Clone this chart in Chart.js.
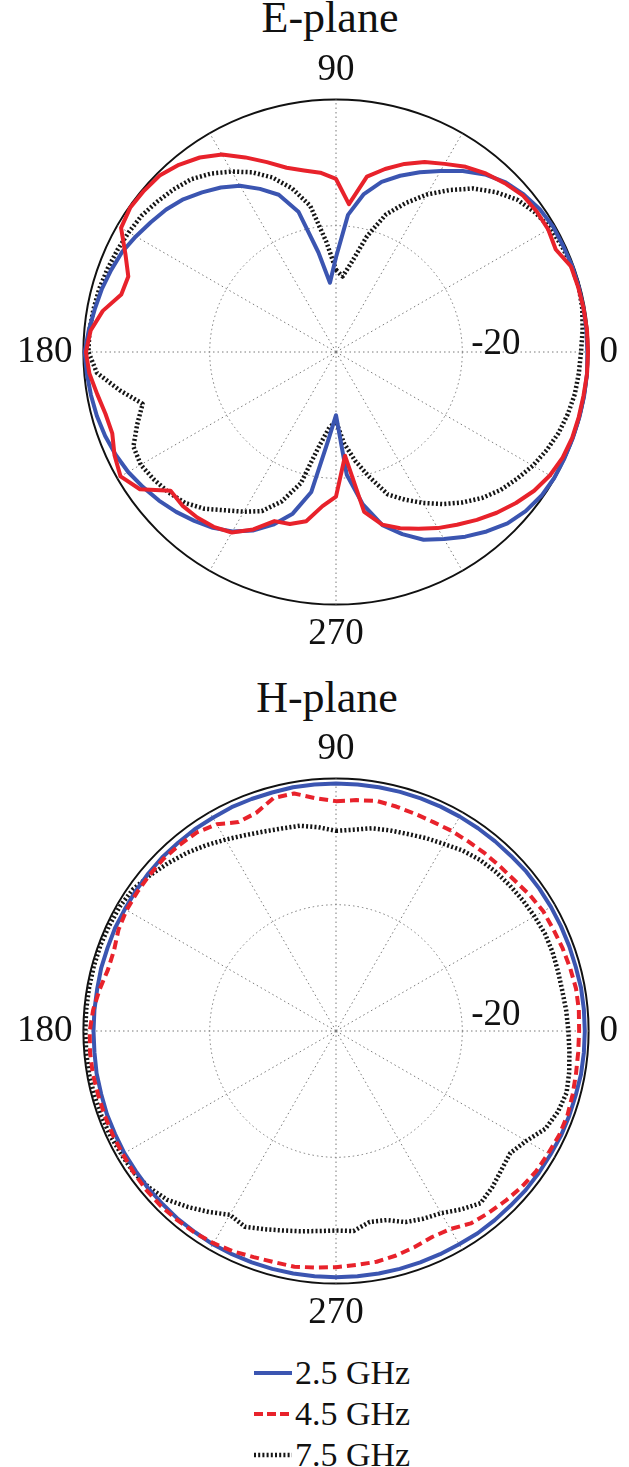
<!DOCTYPE html>
<html>
<head>
<meta charset="utf-8">
<script src="https://cdn.jsdelivr.net/npm/chart.js@4.4.1/dist/chart.umd.min.js"></script>
<style>
  html, body { margin: 0; padding: 0; background: #fff; overflow: hidden; width: 629px; height: 1467px; }
  canvas { position: absolute; left: -2px; }
  .title { position: absolute; left: 0; text-align: center; font: 44px/44px "Liberation Serif", serif; color: #111; }
  #legend { position: absolute; left: 254px; top: 1352px; font: 34px/41px "Liberation Serif", serif; color: #111; }
  #legend div { height: 41px; white-space: nowrap; }
  #legend svg { vertical-align: middle; margin-right: 3px; position: relative; top: -3px; }
</style>
</head>
<body>
<div class="title" style="top:-4px;width:660px">E-plane</div>
<canvas id="ePlane" width="640" height="608" style="top:48px"></canvas>
<div class="title" style="top:676px;width:654px">H-plane</div>
<canvas id="hPlane" width="640" height="608" style="top:727px"></canvas>
<div id="legend"></div>
<script>
// angle of each sample, degrees (0 = right, counter-clockwise)
const angles = [0,5,10,15,20,25,30,35,40,45,50,55,60,65,70,75,80,85,90,95,
  100,105,110,115,120,125,130,135,140,145,150,155,160,165,170,175,180,185,190,195,
  200,205,210,215,220,225,230,235,240,245,250,255,260,265,270,275,280,285,290,295,
  300,305,310,315,320,325,330,335,340,345,350,355];
const labelledAngles = [0, 90, 180, 270];
const seriesNames = ['2.5 GHz', '4.5 GHz', '7.5 GHz'];

// E-plane, normalised gain in dB
const eBlue = [-0.2,-0.2,-0.2,-0.2,-0.2,-0.3,-0.3,-0.6,-1.2,-2.0,
  -3.3,-5.0,-6.9,-8.6,-10.3,-12.1,-14.6,-18.2,-25.0,-29.0,
  -24.0,-17.0,-13.5,-11.5,-9.6,-8.2,-7.0,-5.8,-4.9,-4.2,
  -3.4,-2.6,-2.1,-1.6,-1.2,-0.7,-0.2,-0.4,-0.6,-0.8,
  -1.1,-1.5,-2.0,-2.7,-3.4,-4.2,-5.1,-6.0,-7.2,-8.8,
  -10.9,-13.5,-17.5,-26.0,-30.0,-20.5,-15.5,-11.6,-9.3,-7.2,
  -5.8,-4.3,-2.9,-1.6,-0.8,-0.3,-0.1,-0.1,-0.1,-0.1,
  -0.1,-0.1];
const eRed = [-0.1,-0.1,-0.2,-0.3,-0.4,-1.6,-1.2,-1.2,-1.4,-2.2,
  -3.1,-4.2,-5.6,-6.8,-8.3,-10.0,-11.8,-16.5,-12.6,-11.5,
  -10.8,-9.8,-8.0,-6.0,-3.9,-2.4,-1.3,-0.5,-0.3,-0.2,
  -0.7,-3.2,-5.0,-4.8,-2.5,-1.0,-0.4,-0.8,-1.6,-2.2,
  -2.3,-1.3,-0.6,-2.1,-5.8,-5.6,-5.8,-6.2,-7.0,-9.0,
  -11.5,-11.8,-12.8,-15.5,-17.1,-23.5,-14.3,-11.7,-10.3,-9.1,
  -7.8,-6.6,-5.3,-4.0,-2.8,-1.7,-0.9,-0.4,-0.2,-0.2,
  -0.2,-0.1];
const eBlack = [-1.2,-0.8,-0.4,-0.2,-0.3,-0.5,-0.8,-1.5,-2.5,-4.2,
  -6.2,-8.7,-11.2,-14.0,-16.8,-21.0,-25.5,-28.0,-27.0,-22.5,
  -16.5,-13.2,-10.6,-8.6,-7.0,-5.5,-4.3,-3.6,-3.0,-2.4,
  -2.1,-1.8,-1.5,-1.2,-1.0,-0.8,-0.8,-2.0,-5.2,-8.3,
  -6.5,-4.6,-4.3,-4.8,-5.4,-6.2,-7.6,-9.4,-10.8,-12.2,
  -14.8,-18.5,-25.0,-28.0,-29.0,-25.5,-22.5,-19.5,-16.0,-14.2,
  -12.4,-10.6,-8.9,-7.3,-6.0,-5.0,-4.0,-3.2,-2.5,-2.0,
  -1.6,-1.4];

// H-plane, normalised gain in dB
const hBlue = [-0.6,-0.6,-0.6,-0.7,-0.7,-0.7,-0.7,-0.7,-0.7,-0.8,
  -0.8,-0.8,-0.8,-0.8,-0.8,-0.8,-0.8,-0.8,-0.8,-0.8,
  -0.8,-0.9,-0.9,-0.9,-1.0,-1.0,-1.1,-1.1,-1.2,-1.3,
  -1.4,-1.4,-1.5,-1.5,-1.6,-1.6,-1.6,-1.6,-1.5,-1.5,
  -1.4,-1.4,-1.3,-1.3,-1.2,-1.2,-1.1,-1.1,-1.0,-1.0,
  -1.0,-1.0,-1.0,-1.0,-1.0,-1.0,-1.0,-1.0,-1.0,-1.0,
  -1.0,-0.9,-0.9,-0.9,-0.8,-0.8,-0.8,-0.7,-0.7,-0.7,
  -0.6,-0.6];
const hRed = [-1.5,-1.4,-1.4,-1.6,-1.8,-2.0,-2.1,-2.5,-3.0,-3.2,
  -3.3,-3.4,-3.4,-3.5,-3.4,-3.2,-3.0,-3.3,-3.6,-3.0,
  -1.8,-1.8,-3.2,-3.5,-2.2,-1.6,-1.5,-1.4,-1.5,-1.6,
  -1.7,-2.0,-2.6,-2.6,-2.0,-1.4,-1.0,-0.9,-0.9,-1.0,
  -1.0,-1.0,-1.0,-0.9,-0.8,-0.8,-0.9,-1.0,-1.2,-1.5,
  -1.9,-2.1,-2.1,-2.4,-2.6,-2.8,-2.9,-3.2,-3.6,-4.0,
  -3.8,-2.8,-2.4,-2.0,-1.6,-1.3,-1.2,-1.0,-1.0,-1.2,
  -1.4,-1.5];
const hBlack = [-3.2,-3.4,-3.6,-3.6,-3.5,-3.5,-3.7,-3.9,-4.1,-4.3,
  -4.6,-5.1,-5.8,-6.3,-6.8,-7.1,-7.4,-8.0,-8.3,-7.6,
  -7.0,-6.8,-6.4,-5.8,-5.0,-4.1,-3.2,-2.4,-1.6,-0.8,
  -0.5,-0.4,-0.3,-0.3,-0.3,-0.3,-0.3,-0.3,-0.3,-0.4,
  -0.5,-0.6,-0.8,-0.9,-1.4,-2.2,-3.6,-5.0,-6.4,-5.8,
  -6.6,-7.3,-7.8,-8.2,-8.4,-8.2,-9.3,-9.0,-7.8,-7.2,
  -6.7,-5.5,-4.4,-5.0,-5.8,-6.3,-5.2,-3.4,-2.6,-2.2,
  -2.5,-2.9];

const colors = ['#3b55b1', '#e8222b', '#151515'];
const widths = [4, 4, 4.5];
const drawOrder = [1, 0, 2];
const gridGrey = '#7a7a7a';
const serif = 'Liberation Serif';

// radar draws clockwise from the top, so start at 90 and walk downwards
function clockwise(arr) {
  return arr.slice(0, 19).reverse().concat(arr.slice(19).reverse());
}
const cwAngles = clockwise(angles);

// "-20" ring label, placed just right of the ring on the 0 degree spoke
const ringLabel = {
  id: 'ringLabel',
  beforeDatasetsDraw(chart, args, opts) {
    const s = chart.scales.r;
    const ctx = chart.ctx;
    ctx.save();
    ctx.font = '37px "' + serif + '"';
    ctx.fillStyle = '#111';
    ctx.textAlign = 'left';
    ctx.textBaseline = 'alphabetic';
    ctx.fillText(opts.text, s.xCenter + s.getDistanceFromCenterForValue(opts.value) + 9, s.yCenter + opts.dy);
    ctx.restore();
  }
};

function makePlane(id, series, dashes, ringDy) {
  return new Chart(document.getElementById(id), {
    type: 'radar',
    data: {
      labels: cwAngles,
      datasets: series.map((v, i) => ({
        label: seriesNames[i],
        data: clockwise(v),
        borderColor: colors[i],
        borderWidth: widths[i],
        borderDash: dashes[i],
        order: drawOrder[i],
        fill: false,
        tension: 0,
        pointRadius: 0,
        pointHoverRadius: 0
      }))
    },
    options: {
      responsive: false,
      animation: false,
      devicePixelRatio: 1,
      layout: { padding: 0 },
      elements: { line: { borderJoinStyle: 'round' } },
      plugins: {
        legend: { display: false },
        tooltip: { enabled: false },
        ringLabel: { text: '-20', value: -20, dy: ringDy }
      },
      scales: {
        r: {
          min: -40,
          max: 0,
          ticks: { display: false, stepSize: 20 },
          grid: {
            circular: true,
            color: c => c.tick.value === 0 ? '#111' : (c.tick.value === -20 ? gridGrey : 'rgba(0,0,0,0)'),
            lineWidth: c => c.tick.value === 0 ? 2 : 1
          },
          border: { dash: c => (c.tick && c.tick.value === 0) ? [] : [1.5, 3] },
          angleLines: {
            color: gridGrey,
            lineWidth: c => cwAngles[c.index] % 30 === 0 ? 1 : 0,
            borderDash: [1.5, 3]
          },
          pointLabels: {
            padding: c => cwAngles[c.index] % 180 === 0 ? 11 : 7,
            color: '#111',
            font: { family: serif, size: 37 },
            callback: (label) => labelledAngles.includes(label) ? String(label) : ''
          }
        }
      }
    },
    plugins: [ringLabel]
  });
}

makePlane('ePlane', [eBlue, eRed, eBlack], [[], [], [2, 2.2]], 2);
makePlane('hPlane', [hBlue, hRed, hBlack], [[], [9, 5], [2, 2.2]], -6);

// legend, one row per frequency
const legendDash = ['', '9,4', '2,2.2'];
const legend = document.getElementById('legend');
seriesNames.forEach((name, i) => {
  const row = document.createElement('div');
  row.innerHTML = '<svg width="38" height="8"><line x1="0" y1="4" x2="38" y2="4" stroke="' + colors[i] +
    '" stroke-width="' + widths[i] + '"' + (legendDash[i] ? ' stroke-dasharray="' + legendDash[i] + '"' : '') +
    '/></svg><span>' + name + '</span>';
  legend.appendChild(row);
});
</script>
</body>
</html>
